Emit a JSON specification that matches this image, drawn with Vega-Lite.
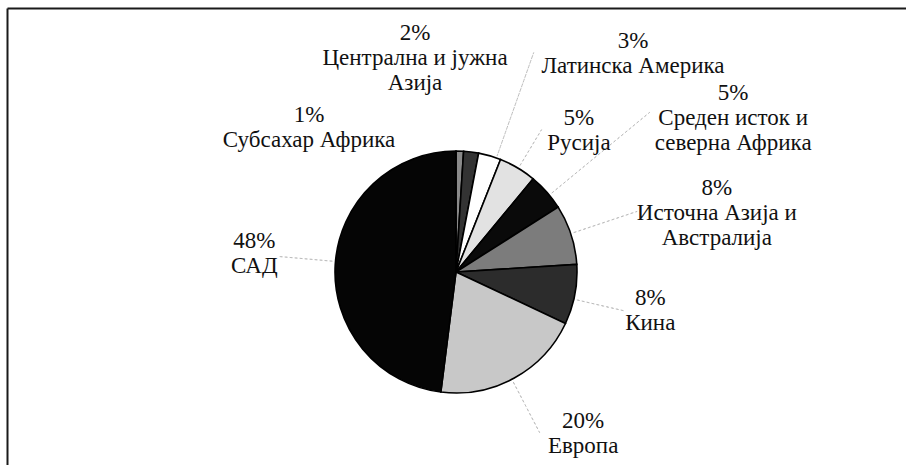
{
  "$schema": "https://vega.github.io/schema/vega-lite/v6.json",
  "width": 899,
  "height": 457,
  "autosize": {"type": "none"},
  "padding": {"left": 7, "top": 8, "right": 0, "bottom": 0},
  "background": "white",
  "config": {"view": {"stroke": null}},
  "data": {
    "values": [
      {"order": 1, "region": "Субсахар Африка", "share": 1},
      {"order": 2, "region": "Централна и јужна\nАзија", "share": 2},
      {"order": 3, "region": "Латинска Америка", "share": 3},
      {"order": 4, "region": "Русија", "share": 5},
      {"order": 5, "region": "Среден исток и\nсеверна Африка", "share": 5},
      {"order": 6, "region": "Источна Азија и\nАвстралија", "share": 8},
      {"order": 7, "region": "Кина", "share": 8},
      {"order": 8, "region": "Европа", "share": 20},
      {"order": 9, "region": "САД", "share": 48}
    ]
  },
  "encoding": {
    "x": {
      "datum": 0,
      "type": "quantitative",
      "scale": {"domain": [-449, 450], "zero": false, "nice": false},
      "axis": {"orient": "top", "ticks": false, "labels": false, "grid": false, "title": null, "domainColor": "#1a1a1a", "domainWidth": 2}
    },
    "y": {
      "datum": 0,
      "type": "quantitative",
      "scale": {"domain": [-193, 264], "zero": false, "nice": false},
      "axis": {"orient": "left", "ticks": false, "labels": false, "grid": false, "title": null, "domainColor": "#1a1a1a", "domainWidth": 2}
    }
  },
  "layer": [
    {
      "mark": {"type": "arc", "outerRadius": 121, "stroke": "#000000", "strokeWidth": 1.6},
      "encoding": {
        "theta": {"field": "share", "type": "quantitative", "stack": true},
        "order": {"field": "order", "type": "quantitative"},
        "fill": {
          "field": "region",
          "type": "nominal",
          "legend": null,
          "scale": {
            "domain": ["Субсахар Африка", "Централна и јужна\nАзија", "Латинска Америка", "Русија", "Среден исток и\nсеверна Африка", "Источна Азија и\nАвстралија", "Кина", "Европа", "САД"],
            "range": ["#8a8a8a", "#333333", "#ffffff", "#e2e2e2", "#0a0a0a", "#7c7c7c", "#2c2c2c", "#c8c8c8", "#050505"]
          }
        }
      }
    },
    {
      "transform": [{"filter": "datum.order >= 3"}],
      "mark": {"type": "arc", "innerRadius": 123, "fill": null, "stroke": "#bdbdbd", "strokeWidth": 1, "strokeDash": [2, 3]},
      "encoding": {
        "theta": {
          "field": "order",
          "type": "quantitative",
          "stack": false,
          "scale": {"type": "linear", "zero": false, "nice": false, "domain": [3, 4, 5, 6, 7, 8, 9], "range": [0.3403, 0.5411, 0.8814, 1.2479, 1.7977, 2.6616, -1.4835]}
        },
        "theta2": {"field": "order"},
        "radius": {
          "field": "order",
          "type": "quantitative",
          "scale": {"type": "linear", "zero": false, "nice": false, "domain": [3, 4, 5, 6, 7, 8, 9], "range": [233, 166, 251, 191, 172, 181, 177]}
        }
      }
    },
    {
      "transform": [{"calculate": "datum.share + '%\\n' + datum.region", "as": "label"}],
      "mark": {"type": "text", "font": "Liberation Serif", "fontSize": 23, "lineHeight": 25, "lineBreak": "\n", "align": "center", "baseline": "middle", "color": "#111111"},
      "encoding": {
        "theta": {
          "field": "order",
          "type": "quantitative",
          "stack": false,
          "scale": {"type": "linear", "zero": false, "nice": false, "domain": [1, 2, 3, 4, 5, 6, 7, 8, 9], "range": [-0.7526, -0.1699, 0.6538, 0.6739, 0.9971, 1.2595, 1.7040, 2.4358, -1.4186]}
        },
        "radius": {
          "field": "order",
          "type": "quantitative",
          "scale": {"type": "linear", "zero": false, "nice": false, "domain": [1, 2, 3, 4, 5, 6, 7, 8, 9], "range": [215, 242.5, 291, 197, 330, 274, 196, 196, 204]}
        },
        "text": {"field": "label", "type": "nominal"}
      }
    }
  ],
  "resolve": {"scale": {"theta": "independent", "radius": "independent"}}
}
